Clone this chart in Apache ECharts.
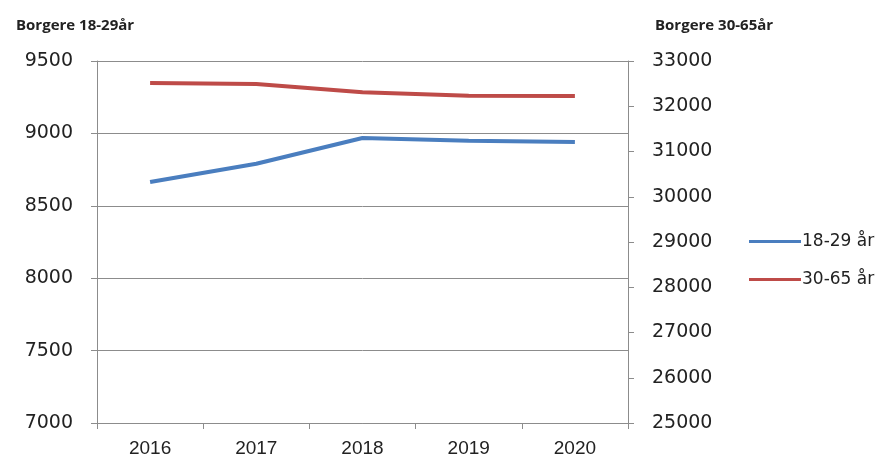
<!DOCTYPE html>
<html>
<head>
<meta charset="utf-8">
<script src="https://cdn.jsdelivr.net/npm/echarts@6/dist/echarts.min.js"></script>
<style>
  html, body { margin: 0; padding: 0; background: #fff; }
  #charts { width: 886px; height: 462px; }
</style>
</head>
<body>
<div id="charts"></div>
<script>
  const years = ['2016', '2017', '2018', '2019', '2020']
  const young = [8664, 8790, 8968, 8950, 8940]       // 18-29 år, venstre akse
  const adults = [32515, 32490, 32310, 32230, 32225] // 30-65 år, højre akse

  let myChart = echarts.init(document.getElementById('charts'))
  const grey = '#8c8c8c'
  const plain = (v) => String(v) // ingen tusindtalsseparator
  let option = {
    animation: false,
    backgroundColor: '#fff',
    title: [
      { text: 'Borgere 18-29år', left: 11, top: 13,
        textStyle: { fontSize: 15, fontWeight: 'bold', color: '#222', fontFamily: 'Open Sans' } },
      { text: 'Borgere 30-65år', left: 650, top: 13,
        textStyle: { fontSize: 15, fontWeight: 'bold', color: '#222', fontFamily: 'Open Sans' } }
    ],
    legend: {
      orient: 'vertical',
      left: 744,
      top: 228,
      itemWidth: 52,
      itemHeight: 3,
      itemGap: 21,
      icon: 'rect',
      textStyle: { fontSize: 17, color: '#222', fontFamily: 'DejaVu Sans', padding: [0, 0, 0, -4] },
      data: ['18-29 år', '30-65 år']
    },
    grid: { left: 97, right: 258, top: 61, bottom: 39 },
    xAxis: {
      type: 'category',
      data: years,
      boundaryGap: true,
      axisLine: { lineStyle: { color: grey } },
      axisTick: { show: true, length: 6, lineStyle: { color: grey } },
      axisLabel: { fontSize: 19, color: '#222', margin: 16, fontFamily: 'Liberation Sans' }
    },
    yAxis: [
      {
        type: 'value', min: 7000, max: 9500, interval: 500,
        axisLine: { show: true, lineStyle: { color: grey } },
        axisTick: { show: true, length: 6, lineStyle: { color: grey } },
        splitLine: { lineStyle: { color: grey } },
        axisLabel: { fontSize: 19, color: '#222', margin: 24, fontFamily: 'DejaVu Sans', formatter: plain }
      },
      {
        type: 'value', min: 25000, max: 33000, interval: 1000,
        axisLine: { show: true, lineStyle: { color: grey } },
        axisTick: { show: true, length: 6, lineStyle: { color: grey } },
        splitLine: { show: false },
        axisLabel: { fontSize: 19, color: '#222', margin: 24, fontFamily: 'DejaVu Sans', formatter: plain }
      }
    ],
    series: [
      {
        name: '18-29 år', type: 'line', yAxisIndex: 0,
        data: young, symbol: 'none',
        itemStyle: { color: '#4a7ebf' },
        lineStyle: { width: 4, color: '#4a7ebf' }
      },
      {
        name: '30-65 år', type: 'line', yAxisIndex: 1,
        data: adults, symbol: 'none',
        itemStyle: { color: '#be4b48' },
        lineStyle: { width: 4, color: '#be4b48' }
      }
    ]
  }
  myChart.setOption(option)
</script>
</body>
</html>
